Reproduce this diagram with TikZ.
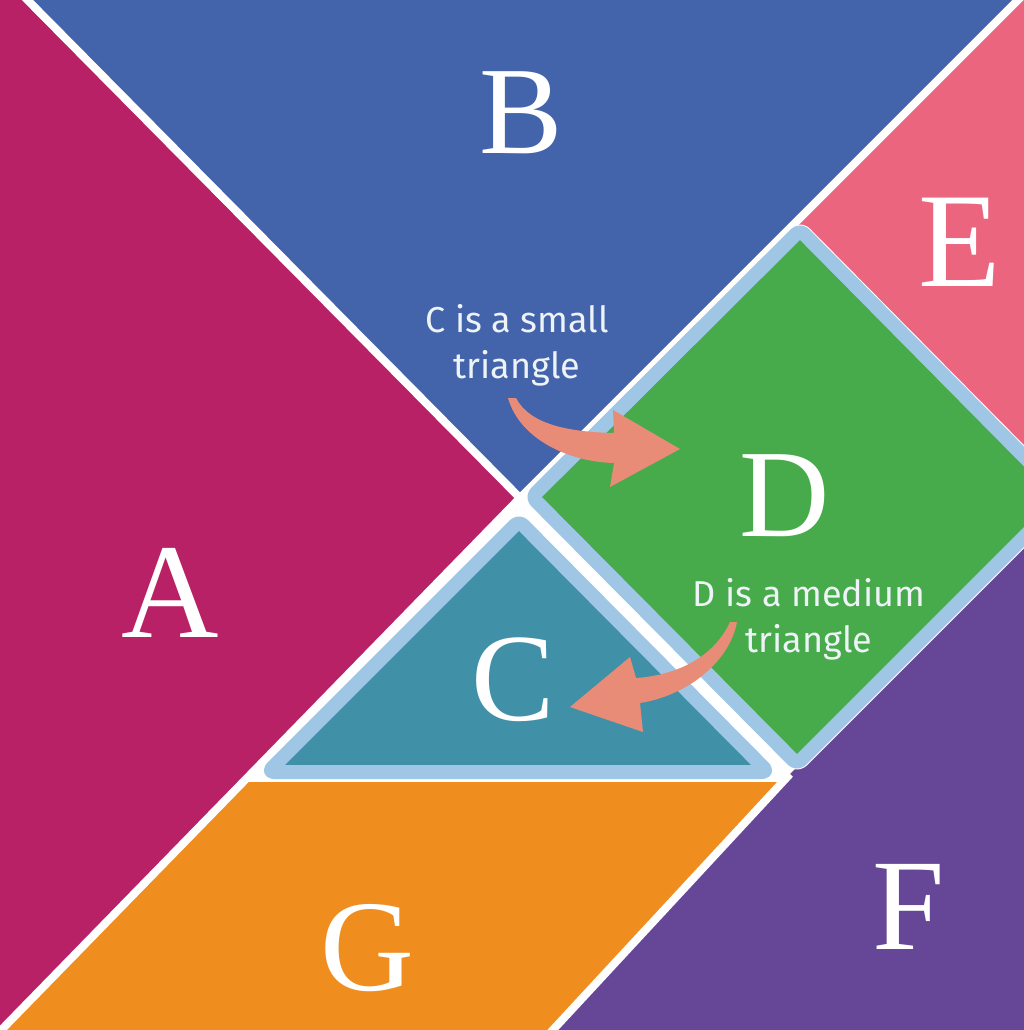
\documentclass[tikz,border=0pt]{standalone}
\usepackage{fontspec}
\setmainfont{Liberation Serif}
\newfontfamily\capfont{Fira Sans}
\definecolor{colA}{HTML}{B82166}
\definecolor{colB}{HTML}{4363AA}
\definecolor{colC}{HTML}{4091A8}
\definecolor{colD}{HTML}{47AA4B}
\definecolor{colE}{HTML}{EC657F}
\definecolor{colF}{HTML}{664696}
\definecolor{colG}{HTML}{EF8E1F}
\definecolor{colBorder}{HTML}{A0C6E6}
\definecolor{colArrow}{HTML}{E88C78}
\definecolor{colText}{HTML}{EEF3F7}
\begin{document}
\begin{tikzpicture}[x=1pt,y=-1pt,
  gapline/.style={white, line width=8pt},
  halo/.style={white, line width=16pt, rounded corners=6pt, line join=round},
  bordered/.style={draw=colBorder, line width=14pt, rounded corners=6pt, line join=round},
  bigletter/.style={text=white, inner sep=0pt, anchor=center},
  caption/.style={text=colText, align=center, inner sep=0pt, font=\capfont\fontsize{36}{46}\selectfont},
  arrowshape/.style={fill=colArrow}]
\useasboundingbox (0,0) rectangle (1024,1030);
\clip (0,0) rectangle (1024,1030);
\fill[white] (0,0) rectangle (1024,1030);
% key points
\coordinate (O) at (520,498);
\coordinate (Btl) at (-20,-48);
\coordinate (Btr) at (1066,-48);
\coordinate (Gbl) at (-28,1060);
\coordinate (Gtl) at (243,782);
\coordinate (Gtr) at (783,782);
\coordinate (Gbr) at (525,1060);
\coordinate (Fj) at (790,774);
% outer tiles
\fill[colA] (-60,-48) -- (Btl) -- (O) -- (Gbl) -- (-60,1060) -- cycle;
\fill[colB] (Btl) -- (Btr) -- (O) -- cycle;
\fill[colE] (Btr) -- (1100,-48) -- (1100,540) -- (792,226) -- cycle;
\fill[colF] (Gbr) -- (Fj) -- (1100,464) -- (1100,1060) -- cycle;
\fill[colG] (Gtl) -- (Gtr) -- (Gbr) -- (Gbl) -- cycle;
% white gaps
\draw[gapline] (Btl) -- (O) -- (Btr);
\draw[gapline] (O) -- (Gbl);
\draw[gapline] (Fj) -- (Gbr);
% D square
\coordinate (Dt) at (800,230);
\coordinate (Dr) at (1064,497);
\coordinate (Db) at (797,764);
\coordinate (Dl) at (532,497);
\draw[halo] (Dt) -- (Dr) -- (Db) -- (Dl) -- cycle;
\filldraw[bordered, fill=colD] (Dt) -- (Dr) -- (Db) -- (Dl) -- cycle;
% C triangle
\coordinate (Ct) at (519,521);
\coordinate (Cr) at (768,772);
\coordinate (Cl) at (268,772);
\draw[halo] (Ct) -- (Cr) -- (Cl) -- cycle;
\filldraw[bordered, fill=colC] (Ct) -- (Cr) -- (Cl) -- cycle;
% letters
\node[bigletter, font=\fontsize{135}{135}\selectfont] (lA) at (170,593) {A};
\node[bigletter, font=\fontsize{125}{125}\selectfont] (lB) at (521,113) {B};
\node[bigletter, font=\fontsize{125}{125}\selectfont] (lC) at (513,680) {C};
\node[bigletter, font=\fontsize{125}{125}\selectfont] (lD) at (785,496) {D};
\node[bigletter, font=\fontsize{135}{135}\selectfont] (lE) at (960,242) {E};
\node[bigletter, font=\fontsize{130}{130}\selectfont] (lF) at (909,907) {F};
\node[bigletter, font=\fontsize{130}{130}\selectfont] (lG) at (367,948) {G};
% captions
\node[caption] (capC) at (517,345) {C is a small\\triangle};
\node[caption] (capD) at (809,619) {D is a medium\\triangle};
% arrows
\fill[arrowshape] (508,398) .. controls (520,440) and (570,462) .. (614,463)
  -- (610,487) -- (680,449) -- (613,410) -- (614,433)
  .. controls (570,432) and (530,425) .. (516,398) -- cycle;
\fill[arrowshape] (730,622) .. controls (715,655) and (680,675) .. (636,678)
  -- (630,657) -- (570,707) -- (643,732) -- (640,703)
  .. controls (690,695) and (730,660) .. (737,622) -- cycle;
\end{tikzpicture}
\end{document}
